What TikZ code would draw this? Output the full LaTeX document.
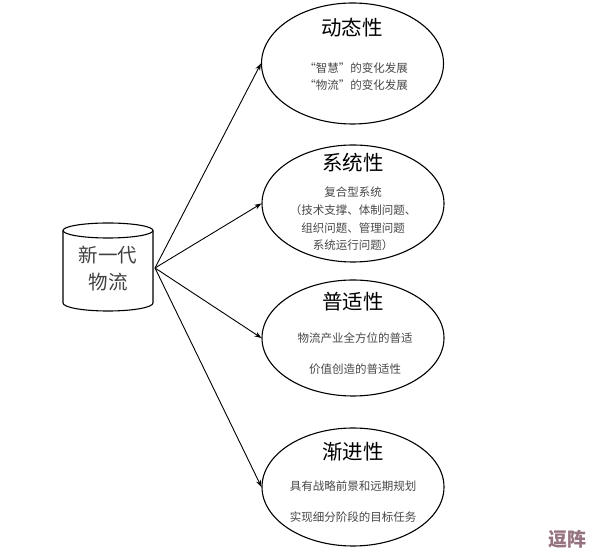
\documentclass[tikz,border=0pt]{standalone}
\usepackage{fontspec}
\newfontfamily\cjk{Noto Sans CJK SC}
\usetikzlibrary{shapes.geometric,arrows.meta}
\tikzset{
  oval/.style={draw=black, line width=1.1pt, ellipse, minimum width=182pt, inner sep=0pt},
  ttl/.style={font=\cjk\fontsize{20.5}{22}\selectfont, text=black, inner sep=0pt},
  body/.style={font=\cjk\fontsize{11.5}{13}\selectfont, text=black!72, inner sep=0pt},
  cyltext/.style={font=\cjk\fontsize{19.5}{22}\selectfont, text=black!75, inner sep=0pt},
  conn/.style={line width=0.9pt, -{Stealth[length=7pt,width=5pt]}},
}
\begin{document}
\begin{tikzpicture}[x=1pt,y=1pt]
\useasboundingbox (0,0) rectangle (594,559);
% ellipses (y = 559 - image y)
\node[oval, minimum height=121pt] (e1) at (352.5,495.5) {};
\node[oval, minimum height=117pt] (e2) at (353,355.5) {};
\node[oval, minimum height=116pt] (e3) at (353,221) {};
\node[oval, minimum height=118pt] (e4) at (353,72) {};
% titles
\node[ttl] (t1) at (352,531) {动态性};
\node[ttl] (t2) at (353,396) {系统性};
\node[ttl] (t3) at (353,257) {普适性};
\node[ttl] (t4) at (353,107) {渐进性};
% body texts
\node[body] (b11) at (356,491) {“智慧”的变化发展};
\node[body] (b12) at (356,474) {“物流”的变化发展};
\node[body] (b21) at (353,367) {复合型系统};
\node[body] (b22) at (353,349) {（技术支撑、体制问题、};
\node[body] (b23) at (353,331) {组织问题、管理问题};
\node[body] (b24) at (353,314) {系统运行问题）};
\node[body] (b31) at (355,221) {物流产业全方位的普适};
\node[body] (b32) at (355,190) {价值创造的普适性};
\node[body] (b41) at (353,73) {具有战略前景和远期规划};
\node[body] (b42) at (353,42) {实现细分阶段的目标任务};
% cylinder
\draw[line width=1.1pt] (63,328.5) -- (63,256)
  arc[start angle=180, end angle=360, x radius=45, y radius=8] -- (153,328.5);
\draw[line width=1.1pt] (108,328.5) ellipse [x radius=45, y radius=7.5];
\node[cyltext] (c1) at (108,304) {新一代};
\node[cyltext] (c2) at (108,277) {物流};
\coordinate (hub) at (155,291);
% connectors
\draw[conn] (hub) -- (e1.west);
\draw[conn] (hub) -- (e2.west);
\draw[conn] (hub) -- (e3.west);
\draw[conn] (hub) -- (e4.west);
% watermark
\node[font=\cjk\bfseries\fontsize{19}{20}\selectfont, text={rgb,255:red,150;green,115;blue,128}, inner sep=0pt] (wm) at (567,20) {逗阵};
\end{tikzpicture}
\end{document}
